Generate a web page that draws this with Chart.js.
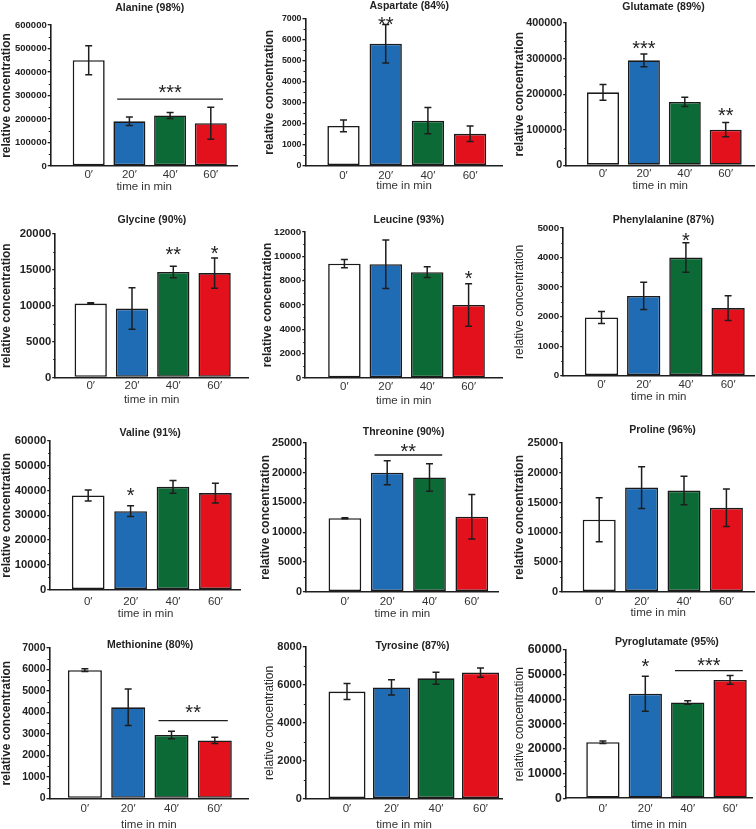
<!DOCTYPE html>
<html>
<head>
<meta charset="utf-8">
<script src="https://cdn.jsdelivr.net/npm/chart.js@4/dist/chart.umd.min.js"></script>
<style>
html, body { margin: 0; padding: 0; background: #fff; }
#wrap { position: relative; width: 756px; height: 829px; overflow: hidden; }
#wrap canvas { position: absolute; }
</style>
</head>
<body>
<div id="wrap"></div>
<script>
// ---- data ----
var timeLabels = ['0′', '20′', '40′', '60′'];
var aminoAcids = ['Alanine (98%)', 'Aspartate (84%)', 'Glutamate (89%)',
                  'Glycine (90%)', 'Leucine (93%)', 'Phenylalanine (87%)',
                  'Valine (91%)', 'Threonine (90%)', 'Proline (96%)',
                  'Methionine (80%)', 'Tyrosine (87%)', 'Pyroglutamate (95%)'];

var means = [
    [450000, 190000, 215000, 182000],
    [1900, 5820, 2150, 1520],
    [205000, 295000, 178000, 100000],
    [10300, 9600, 14700, 14550],
    [9400, 9350, 8700, 6000],
    [1970, 2700, 4000, 2290],
    [38000, 31700, 41500, 39000],
    [12350, 20000, 19200, 12600],
    [12100, 17500, 17000, 14100],
    [5970, 4240, 2950, 2700],
    [5650, 5870, 6350, 6650],
    [22700, 42300, 38800, 47900]
];
var errors = [
    [62000, 18000, 13000, 68000],
    [280, 920, 630, 370],
    [22000, 18000, 13000, 20000],
    [100, 2900, 800, 2100],
    [330, 2000, 440, 1750],
    [200, 460, 500, 420],
    [2200, 2150, 2600, 4000],
    [100, 2000, 2300, 3750],
    [3700, 3500, 2400, 3150],
    [60, 850, 170, 150],
    [420, 400, 320, 240],
    [500, 7100, 700, 1800]
];
var yMax   = [600000, 7000, 400000, 20000, 12000, 5000, 60000, 25000, 25000, 7000, 8000, 60000];
var yStep  = [100000, 1000, 100000, 5000, 2000, 1000, 10000, 5000, 5000, 1000, 2000, 10000];
var yMinor = [50000, 500, 50000, 2500, 1000, 500, 5000, 2500, 2500, 500, 1000, 5000];

// significance marks: bar = single bar, from/to = bracket line at "line"
var signif = [
    [{ from: 1, to: 3, line: 285000, at: 334000, text: '***' }],
    [{ bar: 1, at: 6980, text: '**' }],
    [{ bar: 1, at: 342000, text: '***' }, { bar: 3, at: 154000, text: '**' }],
    [{ bar: 2, at: 17800, text: '**' }, { bar: 3, at: 18000, text: '*' }],
    [{ bar: 3, at: 8600, text: '*' }],
    [{ bar: 2, at: 4750, text: '*' }],
    [{ bar: 1, at: 39950, text: '*' }],
    [{ from: 1, to: 2, line: 22980, at: 24440, text: '**' }],
    [],
    [{ from: 2, to: 3, line: 3616, at: 4206, text: '**' }],
    [],
    [{ bar: 1, at: 55300, text: '*' }, { from: 2, to: 3, line: 51640, at: 55550, text: '***' }]
];

// ---- page layout (pixels) ----
// axL, axR, yTop, yBot, firstBarCenter, barSpacing, barWidth, yTitleX, titleX, titleY, xTickY, xTitleY
var layout = [
    [51, 238, 25, 166, 89, 40.7, 32, 6.5, 150, 8, 175, 187],
    [305, 502, 19, 165.7, 343, 42.2, 32.3, 268.7, 408.7, 6, 176, 186],
    [566, 754, 22.7, 165, 602.8, 40.9, 32, 519, 663.3, 7.3, 174, 185],
    [55, 248, 234.3, 377.7, 90.5, 41.3, 32.3, 6, 151.7, 220, 386.7, 400],
    [305, 502, 231.7, 377.7, 344.2, 41.4, 32.5, 267, 408.7, 220, 386.7, 400],
    [563, 754, 228.3, 376, 601.3, 42.2, 33.3, 519, 663.3, 220.7, 385, 397.3],
    [50, 240.7, 441.3, 590, 88, 42.4, 32.7, 6, 150, 433.3, 602.7, 614],
    [306, 499, 443.3, 592, 345, 42.3, 32.7, 265.3, 403.7, 432.3, 602.7, 614],
    [562, 754, 443.3, 592, 599, 42.4, 33, 519, 662.3, 430.7, 602.7, 613.3],
    [49.3, 248, 648.3, 798.7, 84.7, 43.3, 34, 6, 150, 645, 809.3, 825],
    [305.3, 502, 647.3, 799, 346.5, 44.5, 37, 268.7, 412, 646.7, 809.3, 825],
    [565.7, 752, 650, 798.3, 602.7, 42.4, 33.3, 519, 666.7, 641.7, 809.3, 825]
];
// per-panel text styling (the source panels were scaled differently)
var tickFontSize = [9.5, 8.8, 10.8, 11.3, 9.8, 9.8, 11.3, 10.8, 11, 10.5, 11, 12.3];
var yTitleWeight = ['bold', 'bold', 'bold', 'bold', 'bold', 'normal',
                    'bold', 'bold', 'bold', 'bold', 'normal', 'normal'];

var FONT = "'Liberation Sans', Arial, sans-serif";
var AXIS = '#1e1e1e';
var BAR_FILL = ['#ffffff', '#1f6cb5', '#0c6a36', '#e2111b'];

function extras(p, offX, offY) {
    var L = layout[p];
    return {
        id: 'extras' + p,
        afterDatasetsDraw: function (chart) {
            var ctx = chart.ctx, ys = chart.scales.y, xs = chart.scales.x;
            ctx.save();
            ctx.strokeStyle = AXIS;

            // minor ticks on y axis
            ctx.lineWidth = 1;
            var n = Math.round(yMax[p] / yMinor[p]);
            var every = Math.round(yStep[p] / yMinor[p]);
            for (var k = 1; k < n; k++) {
                if (k % every === 0) continue;
                var py = Math.round(ys.getPixelForValue(k * yMinor[p])) + 0.5;
                ctx.beginPath();
                ctx.moveTo(ys.right - 2, py);
                ctx.lineTo(ys.right, py);
                ctx.stroke();
            }

            // error bars
            ctx.lineWidth = 1.5;
            var meta = chart.getDatasetMeta(0);
            meta.data.forEach(function (bar, i) {
                var m = means[p][i], e = errors[p][i];
                var y1 = ys.getPixelForValue(m + e), y2 = ys.getPixelForValue(m - e);
                var cx = bar.x;
                ctx.beginPath();
                ctx.moveTo(cx, y1); ctx.lineTo(cx, y2);
                ctx.moveTo(cx - 3.5, y1); ctx.lineTo(cx + 3.5, y1);
                ctx.moveTo(cx - 3.5, y2); ctx.lineTo(cx + 3.5, y2);
                ctx.stroke();
            });

            // significance
            ctx.fillStyle = '#222';
            ctx.textAlign = 'center';
            ctx.textBaseline = 'alphabetic';
            var fs = 20;
            ctx.font = 'normal ' + fs + 'px ' + FONT;
            signif[p].forEach(function (s) {
                var cx;
                if (s.bar !== undefined) {
                    cx = xs.getPixelForValue(s.bar);
                } else {
                    var xa = xs.getPixelForValue(s.from - 0.3), xb = xs.getPixelForValue(s.to + 0.3);
                    var ly = ys.getPixelForValue(s.line);
                    ctx.lineWidth = 1.3;
                    ctx.beginPath();
                    ctx.moveTo(xa, ly); ctx.lineTo(xb, ly);
                    ctx.stroke();
                    cx = (xs.getPixelForValue(s.from) + xs.getPixelForValue(s.to)) / 2;
                }
                ctx.fillText(s.text, cx, ys.getPixelForValue(s.at) + 0.57 * fs);
            });
            ctx.restore();
        },
        afterDraw: function (chart) {
            var ctx = chart.ctx;
            ctx.save();
            ctx.fillStyle = '#222';
            ctx.textAlign = 'center';
            ctx.textBaseline = 'middle';
            ctx.font = 'bold 10.5px ' + FONT;
            ctx.fillText(aminoAcids[p], L[8] - offX, L[9] - offY);
            ctx.restore();
        }
    };
}

function buildPanel(p) {
    var L = layout[p];
    var axL = L[0], axR = L[1], yTop = L[2], yBot = L[3];
    var c0 = L[4], sp = L[5], bw = L[6];
    var left = L[7] - 7.2, top = yTop - 30, right = axR + 6, bottom = L[11] + 7;

    var cv = document.createElement('canvas');
    cv.width = Math.ceil(right - left);
    cv.height = Math.ceil(bottom - top);
    cv.style.left = left + 'px';
    cv.style.top = top + 'px';
    document.getElementById('wrap').appendChild(cv);

    var padRight = cv.width - (axR - left);
    var xHeight = cv.height - (yBot - top);

    new Chart(cv, {
        type: 'bar',
        data: {
            datasets: [{
                data: means[p].map(function (v, i) { return { x: i, y: v }; }),
                backgroundColor: BAR_FILL,
                borderColor: '#1a1a1a',
                borderWidth: 1.6,
                borderSkipped: false,
                barPercentage: bw / sp,
                categoryPercentage: 1
            }]
        },
        options: {
            responsive: false,
            animation: false,
            events: [],
            layout: { padding: { left: 0, top: yTop - top, right: padRight, bottom: 0 } },
            plugins: {
                legend: { display: false },
                tooltip: { enabled: false },
                title: { display: false }
            },
            scales: {
                x: {
                    type: 'linear',
                    min: (axL - c0) / sp,
                    max: (axR - c0) / sp,
                    offset: false,
                    grid: { display: false, drawTicks: false },
                    border: { display: true, color: AXIS, width: 1.6 },
                    afterBuildTicks: function (s) {
                        s.ticks = timeLabels.map(function (_, i) { return { value: i }; });
                    },
                    ticks: {
                        autoSkip: false,
                        maxRotation: 0,
                        padding: Math.max(0, L[10] - yBot - 7),
                        color: '#333',
                        font: { family: FONT, size: 11.5 },
                        callback: function (v) { return timeLabels[v]; }
                    },
                    title: {
                        display: true,
                        text: 'time in min',
                        color: '#333',
                        padding: 0,
                        font: { family: FONT, size: 11.5 }
                    },
                    afterFit: function (s) { s.height = xHeight; }
                },
                y: {
                    min: 0,
                    max: yMax[p],
                    grid: { drawOnChartArea: false, drawTicks: true, tickLength: 3, color: AXIS, lineWidth: 1.3 },
                    border: { display: true, color: AXIS, width: 1.6 },
                    ticks: {
                        stepSize: yStep[p],
                        padding: 1,
                        color: '#222',
                        font: { family: FONT, size: tickFontSize[p], weight: 'bold' },
                        callback: function (v) { return String(v); }
                    },
                    title: {
                        display: true,
                        text: 'relative concentration',
                        color: '#222',
                        padding: 0,
                        font: { family: FONT, size: 12, weight: yTitleWeight[p] }
                    },
                    afterFit: function (s) { s.width = axL - left; }
                }
            }
        },
        plugins: [extras(p, left, top)]
    });
}

for (var p = 0; p < aminoAcids.length; p++) buildPanel(p);
</script>
</body>
</html>
